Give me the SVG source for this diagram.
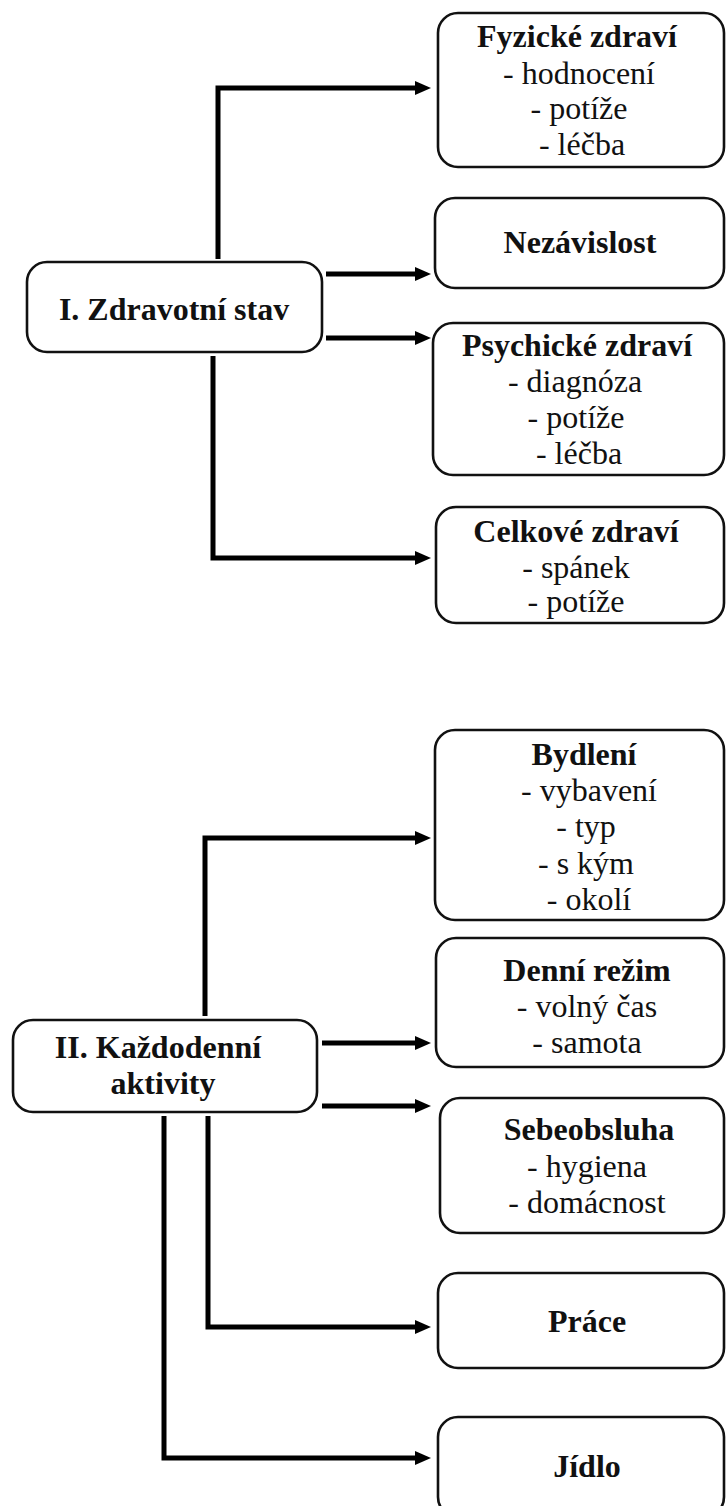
<svg xmlns="http://www.w3.org/2000/svg" width="727" height="1506" viewBox="0 0 727 1506">
<style>
.box{fill:#fff;stroke:#111;stroke-width:2.6}
.t{font-family:"Liberation Serif","DejaVu Serif",serif;font-size:32px;fill:#111;text-anchor:middle}
.b{font-weight:bold}
.c{fill:none;stroke:#000;stroke-width:5;stroke-linejoin:miter}
</style>
<defs>
<marker id="ah" viewBox="0 0 16 14" refX="1" refY="7" markerWidth="16" markerHeight="14" markerUnits="userSpaceOnUse" orient="auto">
<path d="M0 0 L16 7 L0 14 Z" fill="#000"/>
</marker>
</defs>
<rect width="727" height="1506" fill="#fff"/>
<g id="connectors">
<path class="c" marker-end="url(#ah)" d="M218 259 V88 H416"/>
<path class="c" marker-end="url(#ah)" d="M326 274 H416"/>
<path class="c" marker-end="url(#ah)" d="M326 338 H416"/>
<path class="c" marker-end="url(#ah)" d="M213 356 V558 H416"/>
<path class="c" marker-end="url(#ah)" d="M205 1016 V838 H416"/>
<path class="c" marker-end="url(#ah)" d="M322 1043 H416"/>
<path class="c" marker-end="url(#ah)" d="M322 1106 H416"/>
<path class="c" marker-end="url(#ah)" d="M208 1116 V1327 H416"/>
<path class="c" marker-end="url(#ah)" d="M164 1116 V1458 H416"/>
</g>
<g id="zdravotni-stav">
<rect class="box" x="27" y="262" width="295" height="90" rx="20"/>
<text class="t b" x="174" y="320">I. Zdravotní stav</text>
</g>
<g id="fyzicke-zdravi">
<rect class="box" x="438" y="13" width="286" height="154" rx="20"/>
<text class="t b" x="577" y="47">Fyzické zdraví</text>
<text class="t" x="579" y="84">- hodnocení</text>
<text class="t" x="579" y="119">- potíže</text>
<text class="t" x="582" y="155">- léčba</text>
</g>
<g id="nezavislost">
<rect class="box" x="435" y="198" width="289" height="90" rx="20"/>
<text class="t b" x="580" y="253">Nezávislost</text>
</g>
<g id="psychicke-zdravi">
<rect class="box" x="433" y="323" width="291" height="152" rx="20"/>
<text class="t b" x="577" y="356">Psychické zdraví</text>
<text class="t" x="575" y="392">- diagnóza</text>
<text class="t" x="576" y="428">- potíže</text>
<text class="t" x="579" y="464">- léčba</text>
</g>
<g id="celkove-zdravi">
<rect class="box" x="436" y="507" width="288" height="116" rx="20"/>
<text class="t b" x="576" y="542">Celkové zdraví</text>
<text class="t" x="576" y="578">- spánek</text>
<text class="t" x="576" y="612">- potíže</text>
</g>
<g id="kazdodenni-aktivity">
<rect class="box" x="13" y="1020" width="304" height="92" rx="20"/>
<text class="t b" x="158" y="1058">II. Každodenní</text>
<text class="t b" x="163" y="1094">aktivity</text>
</g>
<g id="bydleni">
<rect class="box" x="435" y="730" width="289" height="190" rx="20"/>
<text class="t b" x="584" y="765">Bydlení</text>
<text class="t" x="589" y="801">- vybavení</text>
<text class="t" x="586" y="837">- typ</text>
<text class="t" x="586" y="874">- s kým</text>
<text class="t" x="589" y="910">- okolí</text>
</g>
<g id="denni-rezim">
<rect class="box" x="436" y="938" width="288" height="129" rx="20"/>
<text class="t b" x="587" y="981">Denní režim</text>
<text class="t" x="587" y="1017">- volný čas</text>
<text class="t" x="587" y="1053">- samota</text>
</g>
<g id="sebeobsluha">
<rect class="box" x="440" y="1098" width="284" height="135" rx="20"/>
<text class="t b" x="589" y="1140">Sebeobsluha</text>
<text class="t" x="587" y="1177">- hygiena</text>
<text class="t" x="587" y="1213">- domácnost</text>
</g>
<g id="prace">
<rect class="box" x="438" y="1273" width="286" height="95" rx="20"/>
<text class="t b" x="587" y="1332">Práce</text>
</g>
<g id="jidlo">
<rect class="box" x="438" y="1417" width="286" height="100" rx="20"/>
<text class="t b" x="587" y="1477">Jídlo</text>
</g>
</svg>
